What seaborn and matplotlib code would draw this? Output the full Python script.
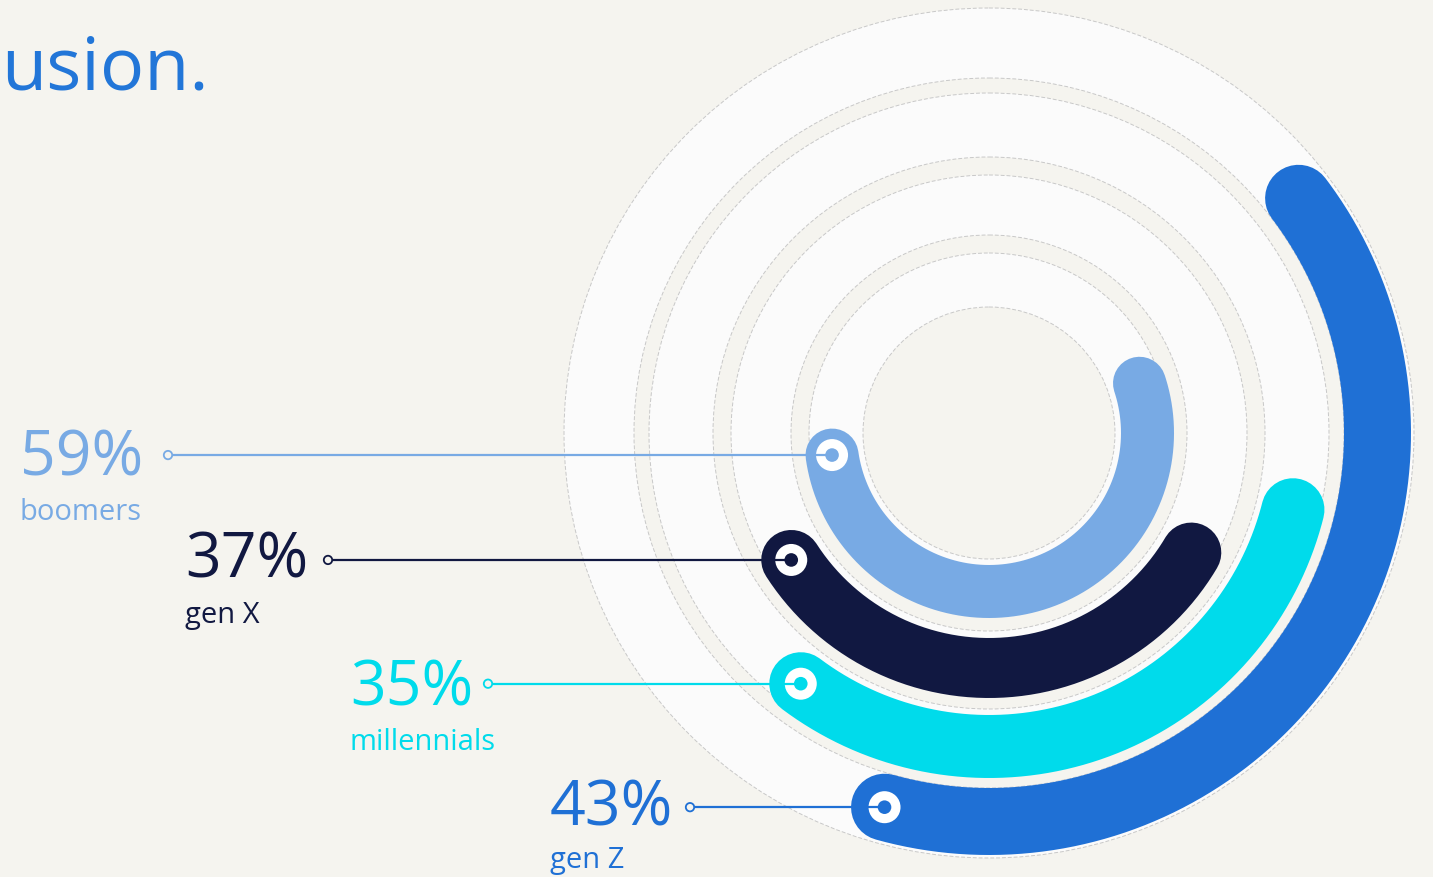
import numpy as np
import pandas as pd
import seaborn as sns
import matplotlib
matplotlib.use("Agg")
import matplotlib.pyplot as plt
from matplotlib.patches import Circle

# ---------------- data ----------------
generations = ["boomers", "gen X", "millennials", "gen Z"]
values = [59, 37, 35, 43]                     # percent
pct_labels = ["59%", "37%", "35%", "43%"]
title_text = "usion."

# ---------------- style / layout ----------------
W, H = 1433, 877
BG = "#F5F4EF"
BAND = "#FBFBFB"
colors = ["#78AAE4", "#111841", "#00DBEB", "#1F70D5"]
title_color = "#2276D8"

cx, cy = 989, 433                              # centre of the rings (px)
radii = [158.5, 235, 313.5, 388.5]             # centre-line radius of each bar
thick = [53, 60, 63, 67]                       # bar thickness (px)
start_deg = [188.0, 212.7, 233.1, 254.4]       # angle of the start (marker) end
full_scale = 355.0                             # degrees that correspond to 100 %
ring_edges = [425, 355, 340, 276, 258, 198, 180, 126]

label_x = [20, 185, 350, 550]
label_base = [475, 578, 705, 826]
sub_offset = [45, 45, 45, 42]
stub_x = [168, 328, 488, 690]

sns.set_theme(style="white")
plt.rcParams["font.family"] = ["Open Sans", "DejaVu Sans"]

fig = plt.figure(figsize=(W / 100, H / 100), dpi=100, facecolor=BG)
ax = fig.add_axes([0, 0, 1, 1])
ax.set_facecolor(BG)

# background rings
for i, r in enumerate(ring_edges):
    ax.add_patch(Circle((cx, cy), r,
                        facecolor=BAND if i % 2 == 0 else BG,
                        edgecolor="#C8C8C8", lw=0.7, ls=(0, (4, 2)),
                        zorder=1 + i * 0.01))

px2pt = 72 / 100
for i, g in enumerate(generations):
    r = radii[i]
    cap_deg = np.degrees((thick[i] / 2) / r)
    end = start_deg[i] + values[i] / 100 * full_scale - 2 * cap_deg
    th = np.radians(np.linspace(start_deg[i], end, 300))
    df = pd.DataFrame({"x": cx + r * np.cos(th), "y": cy - r * np.sin(th)})
    sns.lineplot(data=df, x="x", y="y", sort=False, estimator=None, ax=ax,
                 color=colors[i], linewidth=thick[i] * px2pt,
                 solid_capstyle="round", zorder=3)

    # marker at the start end
    dx = cx + r * np.cos(np.radians(start_deg[i]))
    dy = cy - r * np.sin(np.radians(start_deg[i]))
    ax.add_patch(Circle((dx, dy), 16, facecolor="white", edgecolor="none", zorder=4))
    # leader line
    sns.lineplot(x=[stub_x[i] + 4.5, dx], y=[dy, dy], sort=False, estimator=None,
                 ax=ax, color=colors[i], linewidth=1.6, zorder=5)
    ax.add_patch(Circle((dx, dy), 6.8, facecolor=colors[i], edgecolor="none", zorder=6))
    ax.add_patch(Circle((stub_x[i], dy), 4.2, facecolor=BG, edgecolor=colors[i],
                        lw=1.3, zorder=6))

    # labels
    ax.text(label_x[i], label_base[i], pct_labels[i], fontsize=45,
            color=colors[i], ha="left", va="baseline", zorder=7)
    ax.text(label_x[i], label_base[i] + sub_offset[i], g, fontsize=21,
            color=colors[i], ha="left", va="baseline", zorder=7)

ax.text(1, 90, title_text, fontsize=53, color=title_color,
        ha="left", va="baseline", zorder=7)

ax.set_xlim(0, W)
ax.set_ylim(H, 0)
ax.set_aspect("equal")
ax.axis("off")
if ax.get_legend() is not None:
    ax.get_legend().remove()

fig.savefig("out.png", dpi=100, facecolor=BG)
